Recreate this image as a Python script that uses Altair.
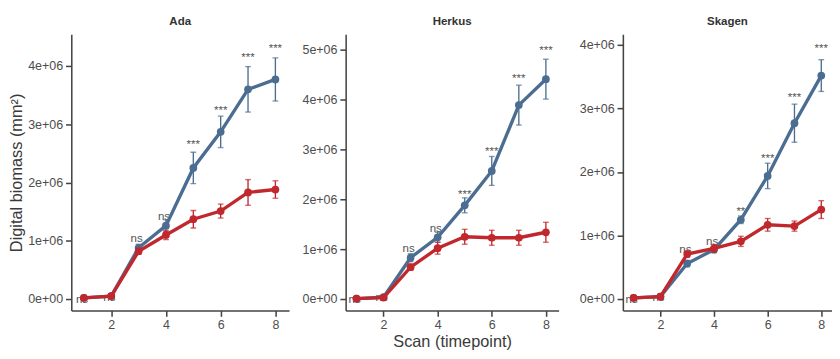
import altair as alt
import pandas as pd

# ---- data (values in units of 1e6 mm^2) ----
timepoints = [1, 2, 3, 4, 5, 6, 7, 8]
cultivars = ["Ada", "Herkus", "Skagen"]
series_names = ["Group A", "Group B"]  # blue, red

ada_blue = [0.02, 0.05, 0.88, 1.26, 2.25, 2.87, 3.60, 3.77]
ada_blue_err = [0.01, 0.02, 0.06, 0.10, 0.27, 0.27, 0.39, 0.37]
ada_red = [0.02, 0.05, 0.82, 1.10, 1.37, 1.51, 1.83, 1.88]
ada_red_err = [0.01, 0.02, 0.05, 0.08, 0.15, 0.12, 0.22, 0.15]
ada_sig = ["ns", "ns", "ns", "ns", "***", "***", "***", "***"]
ada_sig_y = [0.0, 0.04, 1.05, 1.43, 2.70, 3.30, 4.20, 4.36]

herkus_blue = [0.01, 0.04, 0.83, 1.24, 1.88, 2.57, 3.89, 4.41]
herkus_blue_err = [0.01, 0.02, 0.08, 0.10, 0.15, 0.29, 0.40, 0.40]
herkus_red = [0.01, 0.03, 0.64, 1.02, 1.25, 1.23, 1.23, 1.34]
herkus_red_err = [0.01, 0.02, 0.06, 0.12, 0.15, 0.15, 0.15, 0.20]
herkus_sig = ["ns", "ns", "ns", "ns", "***", "***", "***", "***"]
herkus_sig_y = [0.0, 0.03, 1.02, 1.43, 2.17, 3.03, 4.49, 5.05]

skagen_blue = [0.02, 0.04, 0.56, 0.78, 1.25, 1.94, 2.77, 3.52]
skagen_blue_err = [0.01, 0.02, 0.05, 0.05, 0.06, 0.20, 0.30, 0.25]
skagen_red = [0.02, 0.04, 0.71, 0.80, 0.91, 1.17, 1.15, 1.41]
skagen_red_err = [0.01, 0.02, 0.05, 0.06, 0.08, 0.10, 0.08, 0.14]
skagen_sig = ["ns", "ns", "ns", "ns", "**", "***", "***", "***"]
skagen_sig_y = [0.0, 0.03, 0.79, 0.91, 1.43, 2.27, 3.22, 4.00]

y_domains = {"Ada": [-0.198, 4.545], "Herkus": [-0.23, 5.31], "Skagen": [-0.18, 4.17]}
y_ticks = {"Ada": [0, 1, 2, 3, 4], "Herkus": [0, 1, 2, 3, 4, 5], "Skagen": [0, 1, 2, 3, 4]}
x_domains = {"Ada": [0.54, 8.5], "Herkus": [0.6, 8.47], "Skagen": [0.6, 8.4]}

panel_data = {
    "Ada": (ada_blue, ada_blue_err, ada_red, ada_red_err, ada_sig, ada_sig_y),
    "Herkus": (herkus_blue, herkus_blue_err, herkus_red, herkus_red_err, herkus_sig, herkus_sig_y),
    "Skagen": (skagen_blue, skagen_blue_err, skagen_red, skagen_red_err, skagen_sig, skagen_sig_y),
}

BLUE = "#4b6d92"
RED = "#c0282d"

widths = {"Ada": 227, "Herkus": 222, "Skagen": 218}


def build_panel(name, first, middle):
    b, be, r, re_, sig, sig_y = panel_data[name]
    rows = []
    for s, m, e in ((series_names[0], b, be), (series_names[1], r, re_)):
        for t, v, err in zip(timepoints, m, e):
            rows.append({"t": t, "series": s, "v": v * 1e6,
                         "lo": (v - err) * 1e6, "hi": (v + err) * 1e6})
    df = pd.DataFrame(rows)
    lab = pd.DataFrame({"t": timepoints, "label": sig, "ly": [v * 1e6 for v in sig_y]})

    xscale = alt.Scale(domain=x_domains[name], nice=False, zero=False)
    yscale = alt.Scale(domain=[d * 1e6 for d in y_domains[name]], nice=False, zero=False)
    xaxis = alt.Axis(values=[2, 4, 6, 8], title="Scan (timepoint)" if middle else None,
                     format="d", titlePadding=3)
    yaxis = alt.Axis(values=[v * 1e6 for v in y_ticks[name]],
                     labelExpr="datum.value == 0 ? '0e+00' : format(datum.value/1e6, 'd') + 'e+06'",
                     title="Digital biomass (mm²)" if first else None, titlePadding=2)

    x = alt.X("t:Q", scale=xscale, axis=xaxis)
    y = alt.Y("v:Q", scale=yscale, axis=yaxis)

    base = alt.Chart(df)
    ly = alt.Y("ly:Q", scale=yscale, axis=yaxis)
    txt_ns = alt.Chart(lab).transform_filter("datum.label == 'ns'").mark_text(
        fontSize=12, color="#555555", baseline="middle", font="Liberation Sans", dx=-2
    ).encode(x=x, y=ly, text="label:N")
    txt_st = alt.Chart(lab).transform_filter("datum.label != 'ns'").mark_text(
        fontSize=12, color="#555555", baseline="middle", font="Liberation Sans", dy=3
    ).encode(x=x, y=ly, text="label:N")

    layers = [txt_ns, txt_st]
    for s in series_names:
        sb = base.transform_filter(alt.datum.series == s)
        c = BLUE if s == series_names[0] else RED
        layers.append(sb.mark_rule(color=c, strokeWidth=1.4).encode(
            x=x, y=alt.Y("lo:Q", scale=yscale, axis=yaxis), y2="hi:Q"))
        layers.append(sb.mark_tick(color=c, orient="horizontal", size=6, thickness=1.4).encode(
            x=x, y=alt.Y("lo:Q", scale=yscale, axis=yaxis)))
        layers.append(sb.mark_tick(color=c, orient="horizontal", size=6, thickness=1.4).encode(
            x=x, y=alt.Y("hi:Q", scale=yscale, axis=yaxis)))
        layers.append(sb.mark_line(color=c, strokeWidth=3.5).encode(x=x, y=y))
        layers.append(sb.mark_point(color=c, filled=True, size=65, opacity=1).encode(x=x, y=y))

    return alt.layer(*layers).properties(
        width=widths[name], height=288,
        title=alt.TitleParams(name, fontSize=12, fontWeight="bold", color="#333333",
                              anchor="middle", font="Liberation Sans", offset=7),
    )


panels = [build_panel(n, i == 0, i == 1) for i, n in enumerate(cultivars)]

chart = alt.hconcat(
    alt.hconcat(panels[0], panels[1], spacing=13), panels[2], spacing=21
).properties(padding=0).configure_view(
    stroke=None
).configure_axis(
    grid=False, domainColor="#444444", domainWidth=1.6, tickColor="#444444",
    tickWidth=1.6, tickSize=6, labelColor="#4d4d4d", labelFontSize=13,
    labelFont="Liberation Sans", titleFont="Liberation Sans", titleFontSize=17,
    titleColor="#3a3a3a", titleFontWeight="normal", labelPadding=3
)

chart.save("out.html", embed_options={"renderer": "svg", "actions": False})
